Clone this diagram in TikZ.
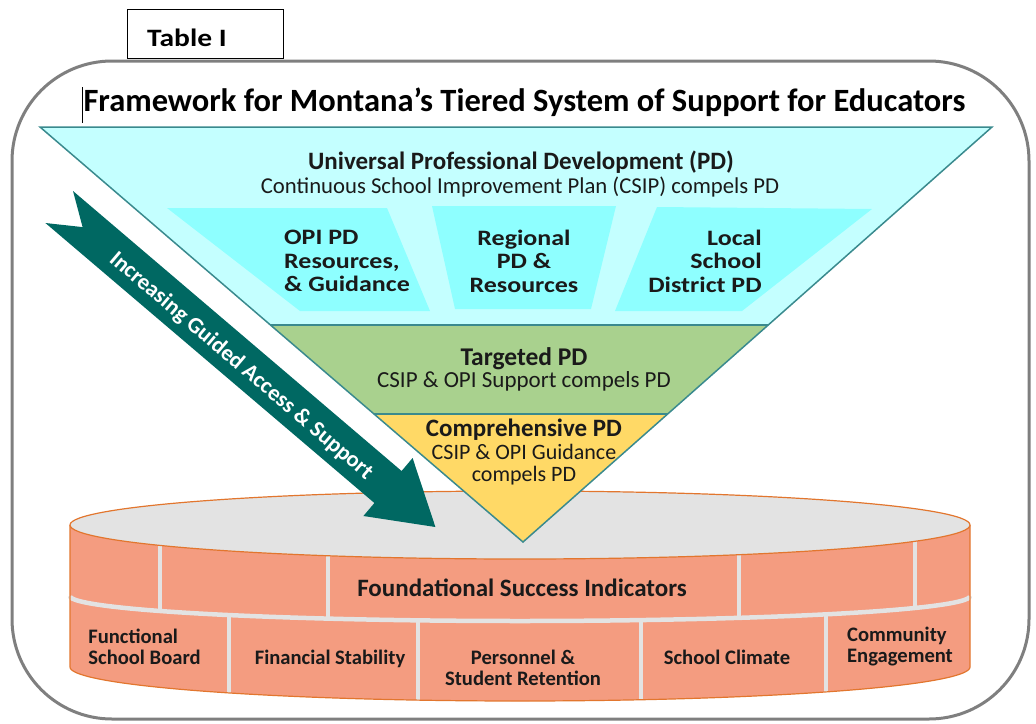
\documentclass[tikz,border=0pt]{standalone}
\usepackage{fontspec}
\setmainfont{Carlito}
\definecolor{cyanL}{HTML}{C4FFFF}
\definecolor{cyanD}{HTML}{8EFFFF}
\definecolor{greenT}{HTML}{A9D18E}
\definecolor{yellowT}{HTML}{FFD966}
\definecolor{edgeT}{HTML}{3A8A8E}
\definecolor{arrowC}{HTML}{006862}
\definecolor{salmon}{HTML}{F49C80}
\definecolor{topgray}{HTML}{E3E3E3}
\definecolor{orangeE}{HTML}{E2762E}
\definecolor{frameG}{HTML}{7F7F7F}
\definecolor{txtC}{HTML}{1A1A1A}
\tikzset{
  txt/.style n args={2}{font=\fontsize{#1}{#2}\selectfont, inner sep=0pt, text=txtC},
  btxt/.style n args={2}{font=\fontsize{#1}{#2}\selectfont\bfseries, inner sep=0pt, text=txtC},
  mortar/.style={draw=topgray, line width=4.5},
  panel/.style={fill=cyanD},
}
\begin{document}
\begin{tikzpicture}[x=1pt,y=-1pt]
\useasboundingbox (0,0) rectangle (1036,723);
% outer frame
\draw[frameG, line width=3, rounded corners=100] (12,61) rectangle (1029,719);
% Table I box
\node (tblbox) [draw=black, line width=1, anchor=north west, minimum width=156, minimum height=49, inner sep=0] at (127,9) {};
\node (tbl) [btxt={25}{28}, anchor=base west, text=black, xscale=1.18] at (147,46.5) {Table I};
% title and cursor
\node (title) [btxt={32.5}{36}, anchor=base, text=black] at (524.5,111) {Framework for Montana’s Tiered System of Support for Educators};
\draw[black, line width=1] (82,87) -- (82,123);

% cylinder
\path[fill=salmon] (70,525) -- (70,667) -- plot[domain=180:0, samples=90] ({520+450*cos(\x)},{667+34*sin(\x)}) -- (970,525) -- plot[domain=0:180, samples=90] ({520+450*cos(\x)},{525+34*sin(\x)}) -- cycle;
\foreach \xx in {160,328,739,915}
  \draw[mortar] (\xx,530) -- (\xx,{596+25*sqrt(1-((\xx-520)/450)^2)});
\foreach \xx in {229,418,641,826}
  \draw[mortar] (\xx,{596+25*sqrt(1-((\xx-520)/450)^2)}) -- (\xx,{667+34*sqrt(1-((\xx-520)/450)^2)});
\draw[mortar] plot[domain=180:0, samples=90] ({520+450*cos(\x)},{596+25*sin(\x)});
\draw[orangeE, line width=1.2] (70,525) -- (70,667) -- plot[domain=180:0, samples=90] ({520+450*cos(\x)},{667+34*sin(\x)}) -- (970,525);
\draw[orangeE, line width=1.2, fill=topgray] (520,525) ellipse [x radius=450, y radius=34];

\node (found) [btxt={25}{27}, anchor=base] at (522,596) {Foundational Success Indicators};
\node (fsb) [btxt={20.6}{21}, anchor=center, align=left] at (144.5,647) {Functional\\School Board};
\node (fin) [btxt={20.6}{21}, anchor=base] at (330,664) {Financial Stability};
\node (pers) [btxt={20.6}{21}, anchor=center, align=center] at (523,668) {Personnel \&\\Student Retention};
\node (clim) [btxt={20.6}{21}, anchor=base] at (727,664) {School Climate};
\node (comm) [btxt={20.6}{21}, anchor=center, align=left] at (900,647) {Community\\Engagement};

% inverted triangle
\coordinate (A) at (40,127);
\coordinate (B) at (992,127);
\coordinate (C) at (523,542);
\begin{scope}
  \clip (A) -- (B) -- (C) -- cycle;
  \fill[cyanL] (0,100) rectangle (1036,325);
  \fill[greenT] (0,325) rectangle (1036,414);
  \fill[yellowT] (0,414) rectangle (1036,560);
  \draw[edgeT, line width=1.2] (0,325) -- (1036,325);
  \draw[edgeT, line width=1.2] (0,414) -- (1036,414);
\end{scope}
\draw[edgeT, line width=1.5] (A) -- (B) -- (C) -- cycle;
\fill[panel] (167,208) -- (387,208) -- (430,311) -- (300,311) -- cycle;
\fill[panel] (432,206) -- (616,206) -- (591,309) -- (455,309) -- cycle;
\fill[panel] (657,207) -- (872,209) -- (742,311) -- (615,311) -- cycle;

\node (univ) [btxt={25}{28}, anchor=base] at (521,169) {Universal Professional Development (PD)};
\node (csip) [txt={22.7}{24}, anchor=base] at (520,193) {Continuous School Improvement Plan (CSIP) compels PD};
\node (opi) [btxt={22}{23.5}, anchor=center, align=left, xscale=1.18] at (347,261) {OPI PD\\Resources,\\\& Guidance};
\node (reg) [btxt={22}{23.5}, anchor=center, align=center, xscale=1.18] at (524,261) {Regional\\PD \&\\Resources};
\node (loc) [btxt={22}{23.5}, anchor=center, align=right, xscale=1.18] at (705,261) {Local\\School\\District PD};
\node (targ) [btxt={25.5}{28}, anchor=base] at (524,365) {Targeted PD};
\node (targs) [txt={23}{24}, anchor=base] at (524,387) {CSIP \& OPI Support compels PD};
\node (comp) [btxt={25}{27}, anchor=base] at (524,436) {Comprehensive PD};
\node (comps) [txt={22}{22}, anchor=center, align=center] at (524,465) {CSIP \& OPI Guidance\\compels PD};

% arrow
\fill[arrowC] (73,191) -- (401.6,471) -- (412.6,458) -- (435.4,527) -- (363.4,516) -- (374.4,503) -- (45.4,223) -- (82.6,227.1) -- cycle;
\node (arrtxt) [btxt={22.7}{24}, text=white, rotate=-40.4] at (241,366) {Increasing Guided Access \& Support};
\end{tikzpicture}
\end{document}
